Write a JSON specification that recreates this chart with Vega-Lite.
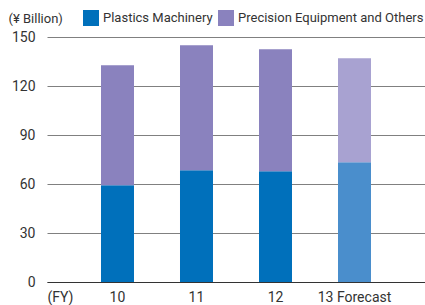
{
  "$schema": "https://vega.github.io/schema/vega-lite/v6.json",
  "autosize": "none",
  "width": 378,
  "height": 245,
  "padding": {"left": 47, "top": 37, "right": 0, "bottom": 23},
  "background": "white",
  "config": {
    "font": "Roboto",
    "view": {"stroke": null}
  },
  "data": {
    "values": [
      {"year": "10", "segment": "Plastics Machinery", "series": "Plastics Machinery", "value": 59.2},
      {"year": "10", "segment": "Precision Equipment and Others", "series": "Precision Equipment and Others", "value": 73.5},
      {"year": "11", "segment": "Plastics Machinery", "series": "Plastics Machinery", "value": 68.4},
      {"year": "11", "segment": "Precision Equipment and Others", "series": "Precision Equipment and Others", "value": 76.6},
      {"year": "12", "segment": "Plastics Machinery", "series": "Plastics Machinery", "value": 67.8},
      {"year": "12", "segment": "Precision Equipment and Others", "series": "Precision Equipment and Others", "value": 74.7},
      {"year": "13 Forecast", "segment": "Plastics Machinery", "series": "Plastics Machinery Forecast", "value": 73.3},
      {"year": "13 Forecast", "segment": "Precision Equipment and Others", "series": "Precision Equipment and Others Forecast", "value": 63.7}
    ]
  },
  "mark": {"type": "bar"},
  "encoding": {
    "x": {
      "field": "year",
      "type": "nominal",
      "sort": null,
      "scale": {"paddingInner": 0.5823, "paddingOuter": 0.6835},
      "axis": {
        "title": "(FY)",
        "titleFontSize": 14,
        "titleFontWeight": "normal",
        "titleColor": "#333333",
        "titleAnchor": "start",
        "titleAlign": "left",
        "titleBaseline": "top",
        "titleX": 0,
        "titleY": 8,
        "labelAngle": 0,
        "labelFontSize": 14,
        "labelColor": "#333333",
        "labelPadding": 8,
        "labelBaseline": "top",
        "ticks": false,
        "domainColor": "#333333",
        "domainWidth": 1.2
      }
    },
    "y": {
      "field": "value",
      "type": "quantitative",
      "stack": "zero",
      "scale": {"domain": [0, 150], "nice": false},
      "axis": {
        "values": [0, 30, 60, 90, 120, 150],
        "title": "(¥ Billion)",
        "titleFontSize": 13,
        "titleFontWeight": "normal",
        "titleColor": "#333333",
        "titleAngle": 0,
        "titleAlign": "left",
        "titleBaseline": "middle",
        "titleX": -39,
        "titleY": -19,
        "labelFontSize": 14,
        "labelColor": "#333333",
        "labelPadding": 12,
        "ticks": false,
        "domain": false,
        "grid": true,
        "gridColor": "#808080",
        "gridWidth": 1.2
      }
    },
    "color": {
      "field": "series",
      "type": "nominal",
      "scale": {
        "domain": ["Plastics Machinery", "Precision Equipment and Others", "Plastics Machinery Forecast", "Precision Equipment and Others Forecast"],
        "range": ["#0070BB", "#8A82BE", "#4A8ECC", "#A8A2D1"]
      },
      "legend": {
        "values": ["Plastics Machinery", "Precision Equipment and Others"],
        "title": null,
        "orient": "none",
        "direction": "horizontal",
        "legendX": 36,
        "legendY": -27,
        "symbolType": "square",
        "symbolSize": 256,
        "symbolStrokeWidth": 0,
        "symbolOpacity": 1,
        "labelFontSize": 13,
        "labelLimit": 400,
        "labelColor": "#333333",
        "labelOffset": 4,
        "columnPadding": 5,
        "padding": 0
      }
    },
    "order": {"field": "segment", "sort": "ascending"}
  }
}
